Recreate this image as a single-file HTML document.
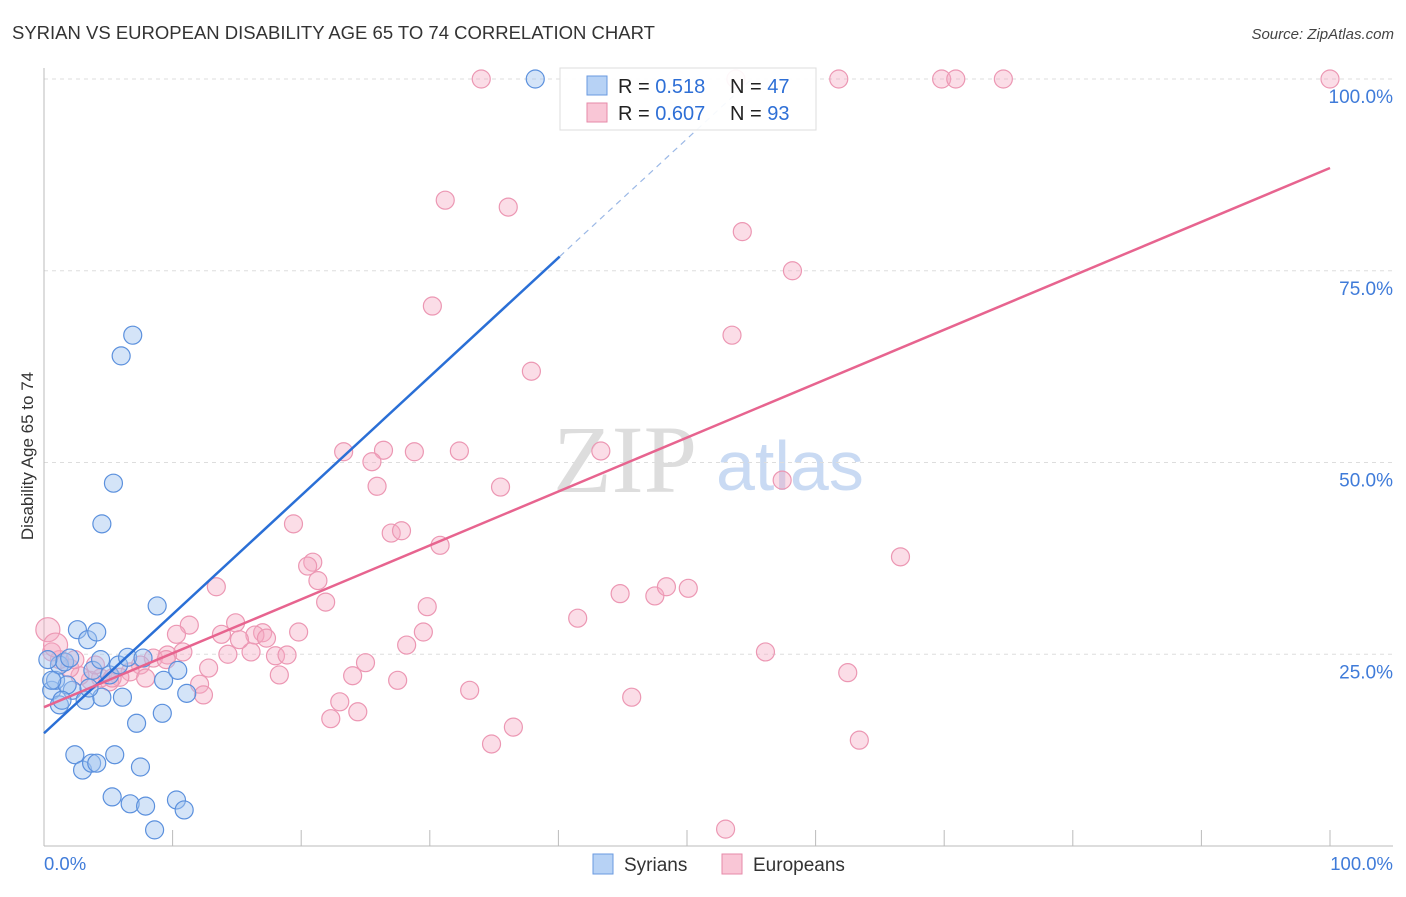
<!DOCTYPE html>
<html><head><meta charset="utf-8"><style>
body{margin:0;background:#fff;font-family:"Liberation Sans",sans-serif}
svg text{font-family:"Liberation Sans",sans-serif}
</style></head><body>
<svg width="1406" height="892" xmlns="http://www.w3.org/2000/svg" id="chart">
<text x="12" y="39" font-size="18.5" fill="#333">SYRIAN VS EUROPEAN DISABILITY AGE 65 TO 74 CORRELATION CHART</text>
<text x="1394" y="39" font-size="15" fill="#444" text-anchor="end" font-style="italic">Source: ZipAtlas.com</text>
<text x="553" y="492" font-size="96" fill="#ddd" font-family="Liberation Serif" style="font-family:'Liberation Serif',serif">ZIP</text>
<text x="716" y="490" font-size="70" fill="#c9daf3">atlas</text>
<text transform="translate(33,456) rotate(-90)" font-size="17" fill="#333" text-anchor="middle">Disability Age 65 to 74</text>
<g id="grid"></g><g id="axes"></g><g id="pts"></g><g id="lines"></g>
<g>
<rect x="560" y="68" width="256" height="62" fill="#fff" fill-opacity="0.92" stroke="#ddd"/>
<rect x="587" y="76" width="20" height="19" fill="#b7d2f5" stroke="#6a9ae0"/>
<rect x="587" y="103" width="20" height="19" fill="#f9c6d6" stroke="#e68aa8"/>
<text x="618" y="93" font-size="20" fill="#222">R = <tspan fill="#2e6fd6"> 0.518</tspan></text>
<text x="730" y="93" font-size="20" fill="#222">N = <tspan fill="#2e6fd6">47</tspan></text>
<text x="618" y="120" font-size="20" fill="#222">R = <tspan fill="#2e6fd6">0.607</tspan></text>
<text x="730" y="120" font-size="20" fill="#222">N = <tspan fill="#2e6fd6">93</tspan></text>
</g>
<g>
<rect x="593" y="854" width="20" height="20" fill="#b7d2f5" stroke="#6a9ae0"/>
<text x="624" y="871" font-size="19" fill="#333">Syrians</text>
<rect x="722" y="854" width="20" height="20" fill="#f9c6d6" stroke="#e68aa8"/>
<text x="753" y="871" font-size="19" fill="#333">Europeans</text>
</g>
</svg>
<script>
const syrX=[0.6,0.9,1.2,1.6,2.0,2.2,2.6,3.2,3.4,3.8,4.1,4.5,5.1,5.8,6.1,6.5,7.2,7.7,8.8,9.3,10.4,11.1,9.2,6.9,6.0,5.4,4.5,2.4,3.0,3.7,4.1,5.5,7.5,5.3,6.7,7.9,10.3,10.9,8.6,38.2,1.2,1.8,0.3,4.4,3.5,0.6,1.4];
const syrY=[20.3,21.6,23.6,24.0,24.5,20.3,28.2,19.0,26.9,22.9,27.9,19.4,22.3,23.6,19.4,24.6,16.0,24.5,31.3,21.6,22.9,19.9,17.3,66.6,63.9,47.3,42.0,11.9,9.9,10.8,10.8,11.9,10.3,6.4,5.5,5.2,6.0,4.7,2.1,100,18.4,21.0,24.3,24.3,20.6,21.6,19.0];
const eurX=[34.0,53.8,61.8,69.8,70.9,74.6,100,31.2,36.1,54.3,58.2,30.2,53.5,37.9,23.3,26.4,28.8,32.3,25.5,43.3,25.9,35.5,57.4,19.4,27.0,27.8,30.8,20.9,20.5,21.3,13.4,21.9,29.8,44.8,47.5,48.4,50.1,66.6,41.5,11.3,14.9,10.3,13.8,17.0,19.8,16.4,17.3,29.5,28.2,10.8,9.6,8.5,14.3,16.1,18.0,18.9,56.1,25.0,24.0,18.3,12.8,9.5,7.5,6.7,5.9,5.1,4.4,3.6,2.8,2.0,1.2,0.6,0.3,0.9,2.4,12.1,12.4,33.1,27.5,45.7,23.0,24.4,22.3,36.5,34.8,63.4,62.5,53.0,5.3,7.9,15.2,4.0];
const eurY=[100,100,100,100,100,100,100,84.2,83.3,80.1,75.0,70.4,66.6,61.9,51.4,51.6,51.4,51.5,50.1,51.5,46.9,46.8,47.7,42.0,40.8,41.1,39.2,37.0,36.5,34.6,33.8,31.8,31.2,32.9,32.6,33.8,33.6,37.7,29.7,28.8,29.1,27.6,27.6,27.8,27.9,27.5,27.1,27.9,26.2,25.3,24.9,24.5,25.0,25.3,24.8,24.9,25.3,23.9,22.2,22.3,23.2,24.3,23.6,22.7,22.0,21.4,21.9,21.6,22.2,23.2,24.3,25.3,28.2,26.2,24.3,21.1,19.7,20.3,21.6,19.4,18.8,17.5,16.6,15.5,13.3,13.8,22.6,2.2,21.9,21.9,26.9,23.6];
const yTicks=[25,50,75,100];
const syrTrend=[14.7,1.55];
const eurTrend=[18.1,0.703];
const NS="http://www.w3.org/2000/svg";
const X=v=>44+v*12.86, Y=v=>846-v*7.67;
function mk(tag,attrs,parent){const e=document.createElementNS(NS,tag);for(const k in attrs)e.setAttribute(k,attrs[k]);document.getElementById(parent).appendChild(e);return e;}
yTicks.forEach(t=>{
 const g=mk('line',{x1:44,x2:1393,y1:Y(t),y2:Y(t),stroke:'#ddd','stroke-dasharray':'4,4'},'grid');
 
 
 const l=mk('text',{x:1393,y:Y(t)+24,'font-size':19,fill:'#3f7bd9','text-anchor':'end'},'grid');
 l.textContent=t.toFixed(1)+'%';
 
 
});
mk('line',{x1:44,x2:44,y1:68,y2:846,stroke:'#bbb'},'axes');
mk('line',{x1:44,x2:1393,y1:846,y2:846,stroke:'#bbb'},'axes');
for(let i=1;i<=10;i++){const t=mk('line',{x1:X(i*10),x2:X(i*10),y1:830,y2:846,stroke:'#bbb'},'axes');
 
 }
let a=mk('text',{x:44,y:870,'font-size':18.5,fill:'#3f7bd9'},'axes');a.textContent='0.0%';


let b=mk('text',{x:1393,y:870,'font-size':18.5,fill:'#3f7bd9','text-anchor':'end'},'axes');b.textContent='100.0%';


eurX.forEach((x,i)=>{const c=mk('circle',{cx:X(x),cy:Y(eurY[i]),r:(x<1&&eurY[i]>26)?12:9,fill:'rgba(246,170,195,0.4)',stroke:'#ec97b3','stroke-width':1.2},'pts');
 
 });
syrX.forEach((x,i)=>{const c=mk('circle',{cx:X(x),cy:Y(syrY[i]),r:9,fill:'rgba(160,195,240,0.45)',stroke:'#5b90dd','stroke-width':1.2},'pts');
 
 });
let s1=mk('line',{x1:X(0),y1:Y(syrTrend[0]),x2:X(40.1),y2:Y(syrTrend[0]+syrTrend[1]*40.1),stroke:'#2a6fd6','stroke-width':2.5},'lines');


const xe=(100-syrTrend[0])/syrTrend[1];
let s2=mk('line',{x1:X(40.1),y1:Y(syrTrend[0]+syrTrend[1]*40.1),x2:X(xe),y2:Y(100),stroke:'#9bb8e6','stroke-width':1.2,'stroke-dasharray':'6,5'},'lines');


let e1=mk('line',{x1:X(0),y1:Y(eurTrend[0]),x2:X(100),y2:Y(eurTrend[0]+eurTrend[1]*100),stroke:'#e7648f','stroke-width':2.5},'lines');


</script>
</body></html>
